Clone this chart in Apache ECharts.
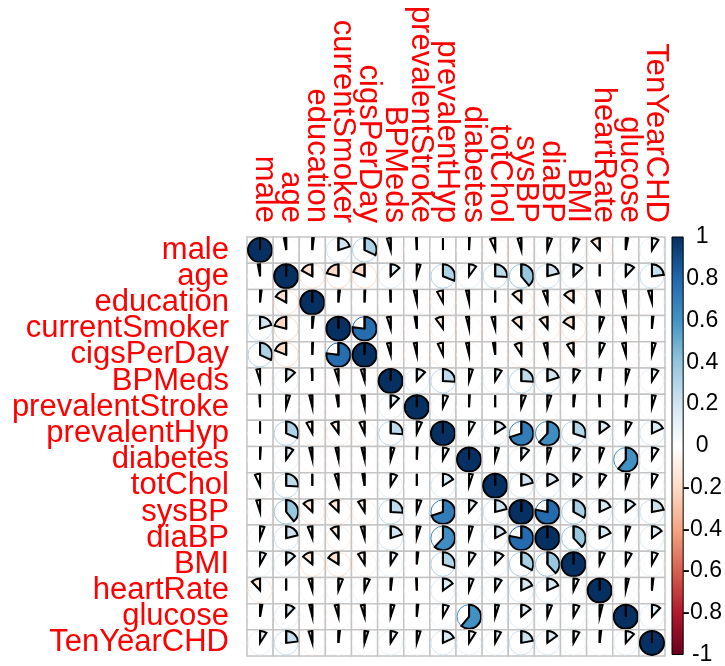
<!DOCTYPE html>
<html>
<head>
<meta charset="utf-8">
<script src="https://cdn.jsdelivr.net/npm/echarts@6/dist/echarts.min.js"></script>
<style>
  html, body { margin: 0; padding: 0; background: #fff; }
  #chart { width: 725px; height: 666px; }
</style>
</head>
<body>
<div id="chart"></div>
<script>
// Variables of the Framingham heart study data set
const variables = ['male', 'age', 'education', 'currentSmoker', 'cigsPerDay', 'BPMeds',
  'prevalentStroke', 'prevalentHyp', 'diabetes', 'totChol', 'sysBP', 'diaBP', 'BMI',
  'heartRate', 'glucose', 'TenYearCHD'];

// Lower triangle of the correlation matrix: each row holds r with the earlier variables
const corrAge            = [-0.03];
const corrEducation      = [0.02, -0.17];
const corrCurrentSmoker  = [0.20, -0.21, 0.02];
const corrCigsPerDay     = [0.32, -0.19, 0.01, 0.77];
const corrBPMeds         = [-0.05, 0.13, -0.01, -0.05, -0.05];
const corrPrevStroke     = [-0.01, 0.05, -0.04, -0.03, -0.04, 0.12];
const corrPrevHyp        = [0.00, 0.31, -0.08, -0.10, -0.07, 0.26, 0.07];
const corrDiabetes       = [0.01, 0.10, -0.04, -0.04, -0.04, 0.05, 0.01, 0.08];
const corrTotChol        = [-0.07, 0.26, 0.00, -0.05, -0.03, 0.09, 0.00, 0.16, 0.05];
const corrSysBP          = [-0.05, 0.39, -0.13, -0.13, -0.09, 0.26, 0.06, 0.70, 0.11, 0.21];
const corrDiaBP          = [0.06, 0.21, -0.06, -0.11, -0.05, 0.20, 0.05, 0.62, 0.05, 0.17, 0.78];
const corrBMI            = [0.08, 0.13, -0.14, -0.16, -0.09, 0.09, 0.02, 0.30, 0.09, 0.12, 0.33, 0.38];
const corrHeartRate      = [-0.12, 0.00, -0.05, 0.06, 0.07, 0.02, -0.01, 0.15, 0.06, 0.09, 0.18, 0.18, 0.07];
const corrGlucose        = [0.03, 0.12, -0.04, -0.05, -0.05, 0.05, 0.02, 0.08, 0.61, 0.05, 0.14, 0.06, 0.08, 0.04];
const corrTenYearCHD     = [0.09, 0.23, -0.05, 0.02, 0.05, 0.09, 0.05, 0.18, 0.09, 0.08, 0.22, 0.15, 0.08, 0.02, 0.12];

const lowerRows = [[], corrAge, corrEducation, corrCurrentSmoker, corrCigsPerDay, corrBPMeds,
  corrPrevStroke, corrPrevHyp, corrDiabetes, corrTotChol, corrSysBP, corrDiaBP, corrBMI,
  corrHeartRate, corrGlucose, corrTenYearCHD];

// Colour-bar tick labels
const legendTicks = [1, 0.8, 0.6, 0.4, 0.2, 0, -0.2, -0.4, -0.6, -0.8, -1];

// Diverging red-white-blue ramp from -1 to 1
const rampColors = ['#67001F', '#B2182B', '#D6604D', '#F4A582', '#FDDBC7', '#FFFFFF',
  '#D1E5F0', '#92C5DE', '#4393C3', '#2166AC', '#053061'];

function hexToRgb(h) {
  return [parseInt(h.slice(1, 3), 16), parseInt(h.slice(3, 5), 16), parseInt(h.slice(5, 7), 16)];
}
function corrColor(r) {
  const t = (Math.max(-1, Math.min(1, r)) + 1) / 2 * (rampColors.length - 1);
  const i = Math.min(Math.floor(t), rampColors.length - 2);
  const f = t - i;
  const a = hexToRgb(rampColors[i]), b = hexToRgb(rampColors[i + 1]);
  const c = a.map((v, k) => Math.round(v + (b[k] - v) * f));
  return 'rgb(' + c.join(',') + ')';
}

// Full symmetric matrix as [column, row, r]
const n = variables.length;
const cells = [];
for (let i = 0; i < n; i++) {
  for (let j = 0; j < n; j++) {
    let r;
    if (i === j) r = 1;
    else if (j < i) r = lowerRows[i][j];
    else r = lowerRows[j][i];
    cells.push([j, i, r]);
  }
}

const labelFont = 'Liberation Sans, Arial, sans-serif';

function renderPie(params, api) {
  const col = api.value(0), row = api.value(1), r = api.value(2);
  const c = api.coord([col, row]);
  const size = api.size([1, 1]);
  const w = size[0], h = size[1];
  const rad = Math.min(w, h) * 0.46;
  const start = -Math.PI / 2;
  const span = Math.min(Math.abs(r), 0.9999) * Math.PI * 2;
  const color = corrColor(r);
  return {
    type: 'group',
    children: [
      { type: 'rect', shape: { x: c[0] - w / 2, y: c[1] - h / 2, width: w, height: h },
        style: { fill: '#fff', stroke: '#C4C4C4', lineWidth: 1.5 } },
      { type: 'circle', shape: { cx: c[0], cy: c[1], r: rad },
        style: { fill: null, stroke: color, lineWidth: 1 } },
      { type: 'sector',
        shape: { cx: c[0], cy: c[1], r0: 0, r: rad, startAngle: start,
                 endAngle: r >= 0 ? start + span : start - span, clockwise: r >= 0 },
        style: { fill: color, stroke: '#000', lineWidth: 2, lineJoin: 'miter' } },
      { type: 'line', shape: { x1: c[0], y1: c[1], x2: c[0], y2: c[1] - rad },
        style: { stroke: '#000', lineWidth: 2 } }
    ]
  };
}

function renderBar(params, api) {
  const top = api.coord([0, 1]);
  const bottom = api.coord([1, -1]);
  const stops = rampColors.map((col, k) => ({ offset: 1 - k / (rampColors.length - 1), color: col }))
    .sort((a, b) => a.offset - b.offset);
  return {
    type: 'rect',
    shape: { x: top[0], y: top[1], width: bottom[0] - top[0], height: bottom[1] - top[1] },
    style: {
      fill: new echarts.graphic.LinearGradient(0, 0, 0, 1, stops),
      stroke: '#000', lineWidth: 1
    }
  };
}

const chart = echarts.init(document.getElementById('chart'), null, { renderer: 'canvas' });
chart.setOption({
  backgroundColor: '#fff',
  animation: false,
  grid: [
    { left: 247, top: 237, width: 418, height: 419 },
    { left: 672, top: 237, width: 16, height: 419 }
  ],
  xAxis: [
    { gridIndex: 0, type: 'category', data: variables, position: 'top',
      axisLine: { show: false }, axisTick: { show: false }, splitLine: { show: false },
      axisLabel: { interval: 0, rotate: 90, margin: 14, color: '#FF0000',
                   fontSize: 31, fontFamily: labelFont, hideOverlap: false,
                   verticalAlign: 'bottom', lineHeight: 8 } },
    { gridIndex: 1, type: 'value', min: 0, max: 1, show: false }
  ],
  yAxis: [
    { gridIndex: 0, type: 'category', data: variables, inverse: true,
      axisLine: { show: false }, axisTick: { show: false }, splitLine: { show: false },
      axisLabel: { interval: 0, margin: 18, color: '#FF0000',
                   fontSize: 31, fontFamily: labelFont, hideOverlap: false } },
    { gridIndex: 1, type: 'value', position: 'right', min: -1, max: 1, interval: 0.2,
      axisLine: { show: false }, splitLine: { show: false },
      axisTick: { show: true, length: 4, lineStyle: { color: '#000', width: 1 } },
      axisLabel: { margin: 19, align: 'center', color: '#000', fontSize: 23,
                   fontFamily: labelFont, showMinLabel: true, showMaxLabel: true,
                   formatter: v => {
                     const t = legendTicks.find(x => Math.abs(x - v) < 1e-6);
                     return t === undefined ? '' : String(t);
                   } } }
  ],
  series: [
    { type: 'custom', xAxisIndex: 0, yAxisIndex: 0, data: cells, renderItem: renderPie, silent: true },
    { type: 'custom', xAxisIndex: 1, yAxisIndex: 1, data: [[0, 0]], renderItem: renderBar, silent: true }
  ]
});
</script>
</body>
</html>
